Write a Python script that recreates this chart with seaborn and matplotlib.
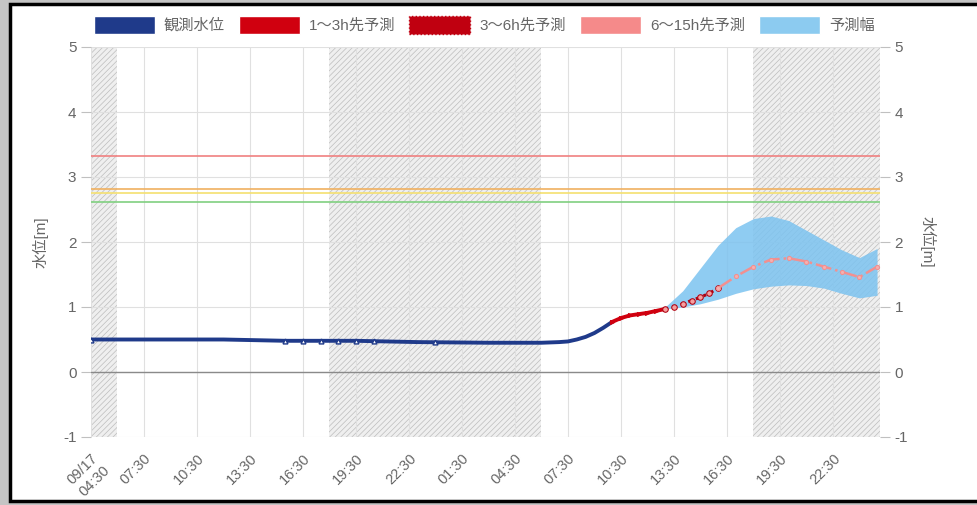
import pandas as pd
import matplotlib.pyplot as plt
from matplotlib.patches import Patch, Rectangle
import seaborn as sns

# 観測水位
obs_time = ["2020-09-17 04:30", "2020-09-17 08:00", "2020-09-17 12:00", "2020-09-17 15:30",
            "2020-09-17 19:30", "2020-09-17 23:00", "2020-09-18 03:00", "2020-09-18 06:00",
            "2020-09-18 07:00", "2020-09-18 07:30", "2020-09-18 08:00", "2020-09-18 08:30",
            "2020-09-18 09:00", "2020-09-18 09:30", "2020-09-18 10:00"]
obs_level = [0.50, 0.50, 0.50, 0.48, 0.48, 0.46, 0.45, 0.45, 0.46, 0.47, 0.50, 0.54, 0.60, 0.68, 0.77]

obs_mark_time = ["2020-09-17 04:30", "2020-09-17 15:30", "2020-09-17 16:30", "2020-09-17 17:30",
                 "2020-09-17 18:30", "2020-09-17 19:30", "2020-09-17 20:30", "2020-09-18 00:00"]
obs_mark_level = [0.50, 0.48, 0.48, 0.48, 0.48, 0.48, 0.48, 0.46]

# 1～3h先予測
fc1_time = ["2020-09-18 10:00", "2020-09-18 10:30", "2020-09-18 11:00", "2020-09-18 11:30",
            "2020-09-18 12:00", "2020-09-18 12:30", "2020-09-18 13:00"]
fc1_level = [0.77, 0.83, 0.87, 0.89, 0.91, 0.94, 0.97]

# 3～6h先予測
fc2_time = ["2020-09-18 13:00", "2020-09-18 13:30", "2020-09-18 14:00", "2020-09-18 14:30",
            "2020-09-18 15:00", "2020-09-18 15:30", "2020-09-18 16:00"]
fc2_level = [0.97, 1.00, 1.05, 1.10, 1.15, 1.21, 1.29]

# 6～15h先予測
fc3_time = ["2020-09-18 16:00", "2020-09-18 17:00", "2020-09-18 18:00", "2020-09-18 19:00",
            "2020-09-18 20:00", "2020-09-18 21:00", "2020-09-18 22:00", "2020-09-18 23:00",
            "2020-09-19 00:00", "2020-09-19 01:00"]
fc3_level = [1.29, 1.47, 1.62, 1.73, 1.75, 1.70, 1.62, 1.54, 1.46, 1.62]

# 予測幅
band_time = ["2020-09-18 13:00", "2020-09-18 14:00", "2020-09-18 15:00", "2020-09-18 16:00",
             "2020-09-18 17:00", "2020-09-18 18:00", "2020-09-18 19:00", "2020-09-18 20:00",
             "2020-09-18 21:00", "2020-09-18 22:00", "2020-09-18 23:00", "2020-09-19 00:00",
             "2020-09-19 01:00"]
band_upper = [1.00, 1.25, 1.60, 1.95, 2.22, 2.36, 2.40, 2.33, 2.18, 2.03, 1.88, 1.76, 1.90]
band_lower = [0.97, 1.00, 1.05, 1.12, 1.21, 1.28, 1.32, 1.34, 1.33, 1.29, 1.21, 1.14, 1.18]

# 基準水位
ref_levels = [3.32, 2.81, 2.75, 2.62]
ref_colors = ["#f08080", "#f0b060", "#f5e070", "#80d080"]

# 夜間
night_start = ["2020-09-17 04:30", "2020-09-17 18:00", "2020-09-18 18:00"]
night_end = ["2020-09-17 06:00", "2020-09-18 06:00", "2020-09-19 01:10"]

tick_labels = ["09/17\n04:30", "07:30", "10:30", "13:30", "16:30", "19:30", "22:30", "01:30",
               "04:30", "07:30", "10:30", "13:30", "16:30", "19:30", "22:30"]

sns.set_style("white")
plt.rcParams["font.family"] = ["Liberation Sans", "Noto Sans CJK JP", "DejaVu Sans"]
plt.rcParams["axes.unicode_minus"] = False
plt.rcParams["hatch.linewidth"] = 0.5
plt.rcParams["hatch.color"] = "#bdbdbd"

fig = plt.figure(figsize=(9.78, 5.05), dpi=100)
fig.patch.set_facecolor("#c4c4c4")
fig.patches.append(Rectangle((10 / 978, 4 / 505), 1.0, 497 / 505, transform=fig.transFigure,
                             facecolor="white", edgecolor="black", linewidth=2.5, zorder=-10))
ax = fig.add_axes([91 / 978, 1 - 437 / 505, (880 - 91) / 978, (437 - 47) / 505])
ax.set_facecolor("none")

for s, e in zip(night_start, night_end):
    ax.axvspan(pd.Timestamp(s), pd.Timestamp(e), facecolor="#efefef", edgecolor="#bdbdbd",
               hatch="//////", linewidth=0, zorder=0)

for lv, c in zip(ref_levels, ref_colors):
    ax.axhline(lv, color=c, linewidth=1.2, zorder=1)
ax.axhline(0, color="#8a8a8a", linewidth=1, zorder=1)

ax.fill_between(pd.to_datetime(band_time), band_lower, band_upper, color="#7cc3f0",
                alpha=0.85, linewidth=0, zorder=2)

sns.lineplot(x=pd.to_datetime(obs_time), y=obs_level, ax=ax, color="#1f3a8a", linewidth=2.8, zorder=3)
ax.plot(pd.to_datetime(obs_mark_time), obs_mark_level, linestyle="none", marker="^",
        markersize=3.5, markerfacecolor="white", markeredgecolor="#1f3a8a", zorder=4)
sns.lineplot(x=pd.to_datetime(fc1_time), y=fc1_level, ax=ax, color="#d0000f", linewidth=2.8,
             marker=">", markersize=3, markeredgecolor="#d0000f", zorder=4)
sns.lineplot(x=pd.to_datetime(fc2_time), y=fc2_level, ax=ax, color="#b00010", linewidth=2.2,
             linestyle=":", marker="o", markersize=4, markerfacecolor="#f5a0a0",
             markeredgecolor="#b00010", zorder=4)
sns.lineplot(x=pd.to_datetime(fc3_time), y=fc3_level, ax=ax, color="#f29090", linewidth=1.8,
             linestyle="-.", marker="o", markersize=3, markerfacecolor="#f5b0b0",
             markeredgecolor="#f29090", zorder=4)

ax.set_ylim(-1, 5)
ax.set_yticks(range(-1, 6))
ax.set_xlim(pd.Timestamp(night_start[0]), pd.Timestamp(night_end[-1]))
ticks = pd.date_range(night_start[0], periods=len(tick_labels), freq="3h")
ax.set_xticks(ticks)
ax.set_xticklabels(tick_labels, rotation=45, ha="right", rotation_mode="anchor")
ax.grid(True, color="#e0e0e0", linewidth=0.8, zorder=0)
ax.set_axisbelow(True)
for sp in ax.spines.values():
    sp.set_visible(False)
ax.tick_params(axis="both", colors="#c0c0c0", labelcolor="#666666", labelsize=11, length=7, width=0.8)
ax.tick_params(axis="x", labelsize=10.5)
ax.set_xlabel("")
ax.set_ylabel("水位[m]", color="#666666", fontsize=11, labelpad=10)

ax2 = ax.twinx()
ax2.set_facecolor("none")
ax2.set_ylim(-1, 5)
ax2.set_yticks(range(-1, 6))
for sp in ax2.spines.values():
    sp.set_visible(False)
ax2.tick_params(axis="y", colors="#c0c0c0", labelcolor="#666666", labelsize=11, length=7, width=0.8)
ax2.set_ylabel("水位[m]", color="#666666", fontsize=11, rotation=-90, labelpad=20)

handles = [Patch(facecolor="#1f3a8a", label="観測水位"),
           Patch(facecolor="#d0000f", label="1～3h先予測"),
           Patch(facecolor="#c00010", edgecolor="#c00010", linestyle=":", label="3～6h先予測"),
           Patch(facecolor="#f58a8a", label="6～15h先予測"),
           Patch(facecolor="#8ccbf0", label="予測幅")]
fig.legend(handles=handles, loc="center", bbox_to_anchor=(0.495, 1 - 25 / 505), ncol=5,
           frameon=False, fontsize=11, handlelength=4.0, handleheight=1.5, columnspacing=0.9,
           handletextpad=0.6, labelcolor="#666666")

fig.savefig("out.png", dpi=100, facecolor=fig.get_facecolor())
